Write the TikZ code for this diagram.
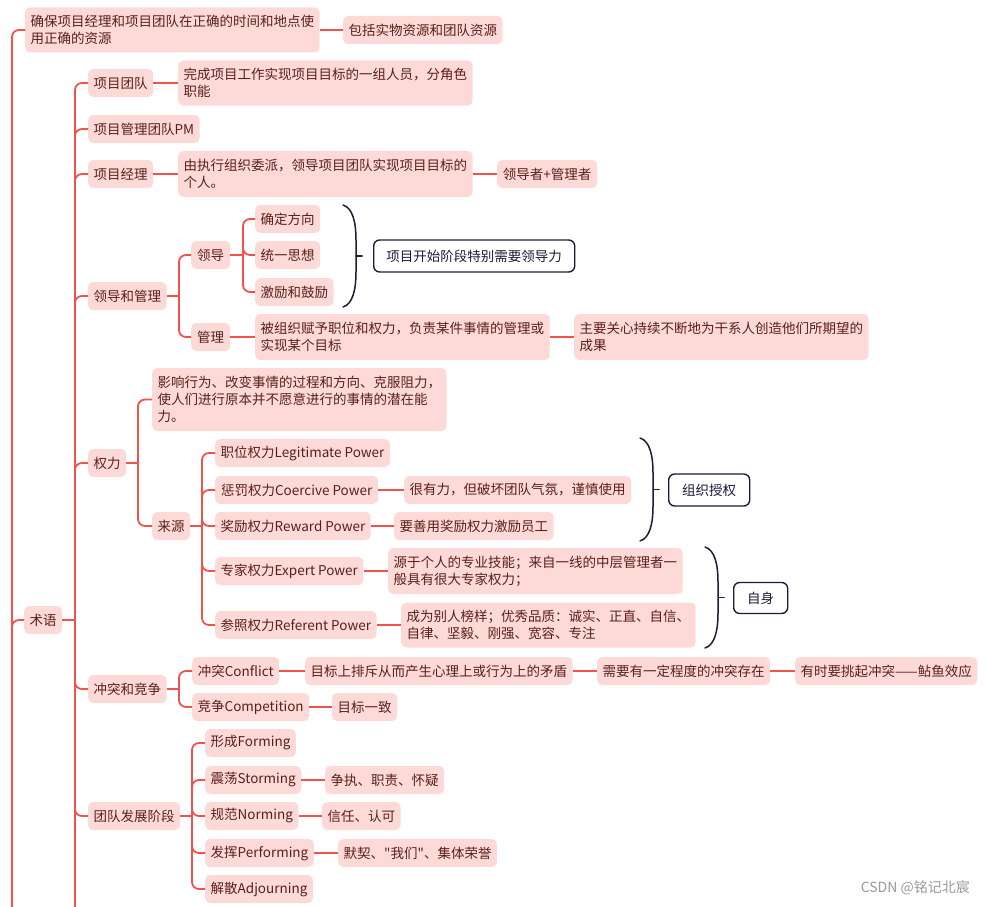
\documentclass[tikz,border=0pt]{standalone}
\usepackage{fontspec}
\newfontfamily\cjk{Noto Sans CJK SC}
\definecolor{pinkfill}{HTML}{FDDAD8}
\definecolor{txt}{HTML}{5B1F1A}
\definecolor{ln}{HTML}{F0524C}
\definecolor{navy}{HTML}{1B1B3A}
\newcommand\bx[6][]{\node[box,minimum width=#5pt,#1] (#2) at (#3,#4) {#6};}
\newcommand\brc[3]{%
  \draw[bracestyle] (#1,#2) .. controls (#1+10,#2+3) and (#1+13,#2+18) .. (#1+13,#2+35) -- (#1+13,#3-35) .. controls (#1+13,#3-18) and (#1+10,#3-3) .. (#1,#3);
  \draw[bracestyle] (#1+13,{(#2+#3)/2}) -- (#1+19,{(#2+#3)/2});}
\begin{document}
\begin{tikzpicture}[x=1pt,y=-1pt,
  box/.style={fill=pinkfill, rounded corners=5pt, text=txt, font=\cjk\fontsize{13.5}{17}\selectfont, inner xsep=5.5pt, inner ysep=0pt, minimum height=28pt, anchor=west, align=left},
  note/.style={draw=navy, line width=1.4pt, fill=white, rounded corners=6pt, text=navy, font=\cjk\fontsize{13.5}{17}\selectfont, inner xsep=4pt, inner ysep=0pt, anchor=west},
  conn/.style={draw=ln, line width=1.8pt, rounded corners=7pt},
  bracestyle/.style={draw=navy, line width=1.5pt, line cap=round}]
\useasboundingbox (0,0) rectangle (985,907);
\clip (0,0) rectangle (985,907);
% nodes
\bx[minimum height=45pt]{qb}{25}{30}{292}{确保项目经理和项目团队在正确的时间和地点使\\用正确的资源}
\bx{bk}{343}{30}{157}{包括实物资源和团队资源}
\bx{sy}{24}{620}{38}{术语}
\bx{xmtd}{88}{83}{65}{项目团队}
\bx[minimum height=45pt]{wc}{178}{83}{294}{完成项目工作实现项目目标的一组人员，分角色\\职能}
\bx{pm}{88}{129}{111}{项目管理团队PM}
\bx{xmjl}{88}{174}{65}{项目经理}
\bx[minimum height=46pt]{yzx}{178}{174}{294}{由执行组织委派，领导项目团队实现项目目标的\\个人。}
\bx{ldz}{497}{174}{100}{领导者+管理者}
\bx{ldgl}{88}{296}{78}{领导和管理}
\bx{ld}{191}{255}{39}{领导}
\bx{qd}{255}{219}{65}{确定方向}
\bx{ty}{255}{255}{65}{统一思想}
\bx{jl}{255}{292}{78}{激励和鼓励}
\node[note, minimum width=201pt, minimum height=32pt] (n1) at (373,256) {项目开始阶段特别需要领导力};
\bx{gl}{191}{337}{39}{管理}
\bx[minimum height=46pt]{bzz}{255}{337}{293}{被组织赋予职位和权力，负责某件事情的管理或\\实现某个目标}
\bx[minimum height=46pt]{zygx}{574}{337}{293}{主要关心持续不断地为干系人创造他们所期望的\\成果}
\bx{ql}{88}{463}{38}{权力}
\bx[minimum height=63pt]{yx}{152}{399.5}{293}{影响行为、改变事情的过程和方向、克服阻力，\\使人们进行原本并不愿意进行的事情的潜在能\\力。}
\bx{ly}{152}{526}{38}{来源}
\bx{zw}{215}{453}{173}{职位权力Legitimate Power}
\bx{cf}{215}{490}{163}{惩罚权力Coercive Power}
\bx{hyl}{404}{490}{226}{很有力，但破坏团队气氛，谨慎使用}
\bx{jlq}{215}{526}{153}{奖励权力Reward Power}
\bx{ysy}{394}{526}{159}{要善用奖励权力激励员工}
\bx{zj}{215}{571}{148}{专家权力Expert Power}
\bx[minimum height=46pt]{yy}{388}{571}{294}{源于个人的专业技能；来自一线的中层管理者一\\般具有很大专家权力；}
\bx{cz}{215}{625}{161}{参照权力Referent Power}
\bx[minimum height=45pt]{cw}{401}{625}{293}{成为别人榜样；优秀品质：诚实、正直、自信、\\自律、坚毅、刚强、宽容、专注}
\node[note, minimum width=81pt, minimum height=32pt] (n2) at (668,490) {组织授权};
\node[note, minimum width=54pt, minimum height=31pt] (n3) at (733,598) {自身};
\bx{ctjz}{88}{689}{78}{冲突和竞争}
\bx{ct}{192}{671}{87}{冲突Conflict}
\bx{jz}{192}{707}{114}{竞争Competition}
\bx{mbs}{305}{671}{267}{目标上排斥从而产生心理上或行为上的矛盾}
\bx{xy}{597}{671}{172}{需要有一定程度的冲突存在}
\bx{ys}{795}{671}{182}{有时要挑起冲突——鲇鱼效应}
\bx{mbyz}{332}{707}{64}{目标一致}
\bx{tdfz}{88}{816}{91}{团队发展阶段}
\bx{xc}{205}{743}{90}{形成Forming}
\bx{zd}{205}{780}{94}{震荡Storming}
\bx{zzh}{325}{780}{118}{争执、职责、怀疑}
\bx{gf}{205}{816}{92}{规范Norming}
\bx{xr}{322}{816}{78}{信任、认可}
\bx{fh}{205}{853}{107}{发挥Performing}
\bx{mq}{338}{853}{154}{默契、"我们"、集体荣誉}
\bx{js}{205}{889}{106}{解散Adjourning}
\node[font=\cjk\fontsize{14}{14}\selectfont, text=black!40, anchor=east, inner sep=0pt] (wm) at (970,888) {CSDN @铭记北宸};
% junctions
\coordinate (root) at (12,950);
\coordinate (syj) at (75,620);
\coordinate (syb) at (75,950);
\coordinate (ldglj) at (179,296);
\coordinate (ldj) at (243,255);
\coordinate (qlj) at (138,463);
\coordinate (lyj) at (202,526);
\coordinate (ctjzj) at (179,689);
\coordinate (tdfzj) at (192,816);
% connectors
\draw[conn] (root) |- (qb.west);
\draw[conn] (root) |- (sy.west);
\draw[conn] (qb.east) -- (bk.west);
\draw[conn] (sy.east) -- (syj);
\draw[conn] (syj) -- (syb);
\foreach \c in {xmtd,pm,xmjl,ldgl,ql,ctjz,tdfz} {\draw[conn] (syj) |- (\c.west);}
\draw[conn] (xmtd.east) -- (wc.west);
\draw[conn] (xmjl.east) -- (yzx.west);
\draw[conn] (yzx.east) -- (ldz.west);
\draw[conn] (ldgl.east) -- (ldglj);
\foreach \c in {ld,gl} {\draw[conn] (ldglj) |- (\c.west);}
\draw[conn] (ld.east) -- (ldj);
\foreach \c in {qd,ty,jl} {\draw[conn] (ldj) |- (\c.west);}
\draw[conn] (gl.east) -- (bzz.west);
\draw[conn] (bzz.east) -- (zygx.west);
\draw[conn] (ql.east) -- (qlj);
\foreach \c in {yx,ly} {\draw[conn] (qlj) |- (\c.west);}
\draw[conn] (ly.east) -- (lyj);
\foreach \c in {zw,cf,jlq,zj,cz} {\draw[conn] (lyj) |- (\c.west);}
\draw[conn] (cf.east) -- (hyl.west);
\draw[conn] (jlq.east) -- (ysy.west);
\draw[conn] (zj.east) -- (yy.west);
\draw[conn] (cz.east) -- (cw.west);
\draw[conn] (ctjz.east) -- (ctjzj);
\foreach \c in {ct,jz} {\draw[conn] (ctjzj) |- (\c.west);}
\draw[conn] (ct.east) -- (mbs.west);
\draw[conn] (mbs.east) -- (xy.west);
\draw[conn] (xy.east) -- (ys.west);
\draw[conn] (jz.east) -- (mbyz.west);
\draw[conn] (tdfz.east) -- (tdfzj);
\foreach \c in {xc,zd,gf,fh,js} {\draw[conn] (tdfzj) |- (\c.west);}
\draw[conn] (zd.east) -- (zzh.west);
\draw[conn] (gf.east) -- (xr.west);
\draw[conn] (fh.east) -- (mq.west);
% braces
\brc{343}{205}{307}
\brc{640}{438}{541}
\brc{705}{547}{648}
\end{tikzpicture}
\end{document}
